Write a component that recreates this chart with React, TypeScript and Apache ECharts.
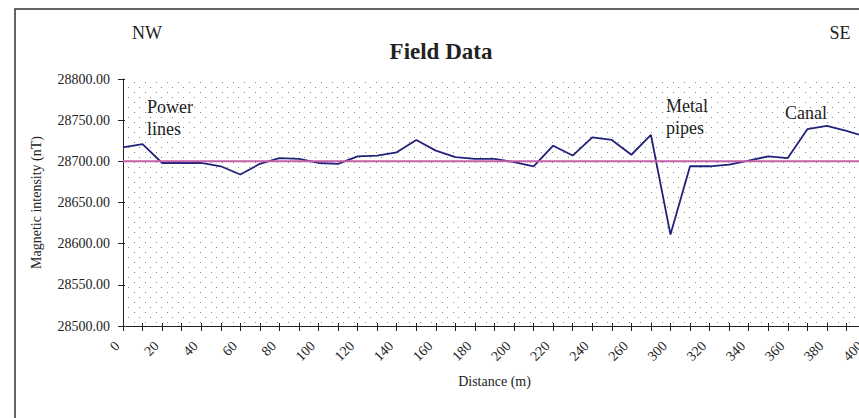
import React, { useEffect, useRef } from 'react';
import * as echarts from 'echarts';

const DISTANCES = [
  '0', '10', '20', '30', '40', '50', '60', '70', '80', '90',
  '100', '110', '120', '130', '140', '150', '160', '170', '180', '190',
  '200', '210', '220', '230', '240', '250', '260', '280', '300', '310',
  '320', '330', '340', '350', '360', '370', '380', '390', '400',
];

const FIELD_VALUES = [
  28717, 28721, 28698, 28698, 28698, 28694, 28684, 28697, 28704, 28703,
  28698, 28697, 28706, 28707, 28711, 28726, 28713, 28705, 28703, 28703,
  28699, 28694, 28719, 28707, 28729, 28726, 28708, 28732, 28611, 28694,
  28694, 28696, 28701, 28706, 28704, 28739, 28743, 28737, 28730,
];

const BASELINE = 28700;
const Y_MIN = 28500;
const Y_MAX = 28800;
const Y_STEP = 50;

const TITLE = 'Field Data';
const X_NAME = 'Distance (m)';
const Y_NAME = 'Magnetic intensity (nT)';

const SERIF = '"Liberation Serif", "Times New Roman", serif';

export default function App() {
  const ref = useRef<HTMLDivElement>(null);

  useEffect(() => {
    const el = ref.current;
    if (!el) return;
    const chart = echarts.init(el, null, { renderer: 'svg' });

    const c = document.createElement('canvas');
    c.width = 11;
    c.height = 10;
    const ctx = c.getContext('2d');
    if (ctx) {
      ctx.fillStyle = '#858585';
      ctx.fillRect(2, 2, 1, 1);
      ctx.fillRect(7, 7, 1, 1);
    }
    const pattern: any = { image: c.toDataURL(), repeat: 'repeat', imageWidth: 11, imageHeight: 10 };

    const baselineData = DISTANCES.map(() => BASELINE);
    const textStyle = { fontFamily: SERIF, color: '#222' };

    chart.setOption({
      animation: false,
      backgroundColor: '#ffffff',
      grid: {
        left: 123,
        top: 79,
        width: 743,
        height: 247,
        show: true,
        backgroundColor: pattern,
        borderWidth: 0,
      },
      xAxis: [
        {
          type: 'category',
          data: DISTANCES,
          boundaryGap: false,
          position: 'bottom',
          name: X_NAME,
          nameLocation: 'middle',
          nameGap: 48,
          nameTextStyle: { ...textStyle, fontSize: 14 },
          axisLine: { show: true, lineStyle: { color: '#222', width: 1 } },
          axisTick: { show: true, interval: 0, length: 5, lineStyle: { color: '#222' } },
          axisLabel: {
            interval: 1,
            rotate: 45,
            margin: 12,
            padding: [0, 8, 0, 0],
            fontFamily: SERIF,
            fontSize: 14,
            color: '#222',
          },
          splitLine: { show: false },
        },
        {
          type: 'category',
          data: DISTANCES,
          boundaryGap: false,
          position: 'bottom',
          offset: 0,
          axisLine: { show: false },
          axisTick: { show: true, inside: true, interval: 0, length: 3, lineStyle: { color: '#222' } },
          axisLabel: { show: false },
          splitLine: { show: false },
        },
      ],
      yAxis: [
        {
          type: 'value',
          min: Y_MIN,
          max: Y_MAX,
          interval: Y_STEP,
          position: 'left',
          name: Y_NAME,
          nameLocation: 'middle',
          nameGap: 80,
          nameTextStyle: { ...textStyle, fontSize: 14 },
          axisLine: { show: true, lineStyle: { color: '#222', width: 1 } },
          axisTick: { show: true, length: 5, lineStyle: { color: '#222' } },
          axisLabel: {
            margin: 13,
            fontFamily: SERIF,
            fontSize: 14,
            color: '#222',
            formatter: (v: number) => v.toFixed(2),
          },
          splitLine: { show: false },
        },
        {
          type: 'value',
          min: Y_MIN,
          max: Y_MAX,
          interval: Y_STEP,
          position: 'left',
          offset: 0,
          axisLine: { show: false },
          axisTick: { show: true, inside: true, length: 2, lineStyle: { color: '#222' } },
          axisLabel: { show: false },
          splitLine: { show: false },
        },
      ],
      series: [
        {
          name: 'Field data',
          type: 'line',
          xAxisIndex: 0,
          yAxisIndex: 0,
          data: FIELD_VALUES,
          symbol: 'none',
          lineStyle: { color: '#22227a', width: 1.8 },
          itemStyle: { color: '#22227a' },
        },
        {
          name: 'Baseline',
          type: 'line',
          xAxisIndex: 0,
          yAxisIndex: 0,
          data: baselineData,
          symbol: 'none',
          lineStyle: { color: '#c462a6', width: 2 },
          itemStyle: { color: '#c462a6' },
        },
      ],
      graphic: [
        {
          type: 'rect',
          silent: true,
          shape: { x: 15, y: 9, width: 1200, height: 800 },
          style: { fill: 'none', stroke: '#333', lineWidth: 1.5 },
        },
        {
          type: 'text',
          x: 441,
          y: 51,
          style: { text: TITLE, fontFamily: SERIF, fontSize: 23, fontWeight: 'bold', fill: '#222', align: 'center', verticalAlign: 'middle' },
        },
        {
          type: 'text',
          x: 147,
          y: 33,
          style: { text: 'NW', fontFamily: SERIF, fontSize: 18, fill: '#222', align: 'center', verticalAlign: 'middle' },
        },
        {
          type: 'text',
          x: 840,
          y: 33,
          style: { text: 'SE', fontFamily: SERIF, fontSize: 18, fill: '#222', align: 'center', verticalAlign: 'middle' },
        },
        {
          type: 'text',
          x: 147,
          y: 96,
          style: { text: 'Power\nlines', fontFamily: SERIF, fontSize: 18, lineHeight: 22, fill: '#222', align: 'left', verticalAlign: 'top' },
        },
        {
          type: 'text',
          x: 666,
          y: 95,
          style: { text: 'Metal\npipes', fontFamily: SERIF, fontSize: 18, lineHeight: 22, fill: '#222', align: 'left', verticalAlign: 'top' },
        },
        {
          type: 'text',
          x: 785,
          y: 113,
          style: { text: 'Canal', fontFamily: SERIF, fontSize: 18, fill: '#222', align: 'left', verticalAlign: 'middle' },
        },
      ],
    });

    return () => {
      chart.dispose();
    };
  }, []);

  return (
    <div style={{ position: 'fixed', left: 0, top: 0, width: 859, height: 418, overflow: 'hidden', background: '#fff' }}>
      <div ref={ref} style={{ width: 880, height: 418 }} />
    </div>
  );
}
